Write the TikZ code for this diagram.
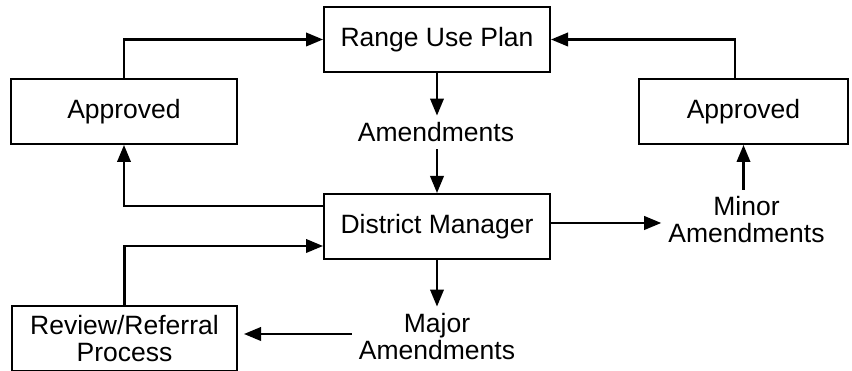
\documentclass[tikz,border=0pt]{standalone}
\usepackage{fontspec}
\setmainfont{Liberation Sans}
\usetikzlibrary{arrows.meta,calc}
\begin{document}
\begin{tikzpicture}[x=1pt,y=1pt,
  every node/.style={font=\fontsize{26.5}{27}\selectfont},
  box/.style={draw, line width=2pt, minimum width=226pt, minimum height=65pt, inner sep=0pt, align=center},
  lbl/.style={inner sep=7pt, align=center},
  arr/.style={line width=2.2pt, -{Triangle[length=17pt,width=13.5pt]}}]
\useasboundingbox (0,0) rectangle (852,371);
% process boxes
\node[box] (rup) at (437,331.5) {Range Use Plan};
\node[box] (apl) at (124,259.5) {Approved};
\node[box, minimum width=209pt] (apr) at (743.5,259.5) {Approved};
\node[box] (dm) at (437,144.5) {District Manager};
\node[box, minimum width=225pt] (rev) at (124.5,32.5) {Review/Referral\\Process};
% free labels
\node[lbl] (amend) at (436,238.5) {Amendments};
\node[lbl] (minor) at (746.5,151) {Minor\\Amendments};
\node[lbl] (major) at (437,34) {Major\\Amendments};
% connectors
\draw[arr] (rup.south) -- (rup.south |- amend.north);
\draw[arr] (amend.south -| dm.north) -- (dm.north);
\draw[arr] (dm.south) -- (dm.south |- major.north);
\draw[arr] ($(major.west)+(0,3pt)$) -- ($(major.west -| rev.east)+(6pt,3pt)$);
\draw[arr] ($(dm.east)+(0,3.5pt)$) -- ($(dm.east -| minor.west)+(0,3.5pt)$);
\draw[arr] (minor.north -| apr.south) -- (apr.south);
\draw[arr] ($(dm.west)+(0,20.5pt)$) -| (apl.south);
\draw[arr] (rev.north) |- ($(dm.west)+(0,-19.5pt)$);
\draw[arr] (apl.north) |- (rup.west);
\draw[arr] ($(apr.north)+(-8.5pt,0)$) |- (rup.east);
\end{tikzpicture}
\end{document}
